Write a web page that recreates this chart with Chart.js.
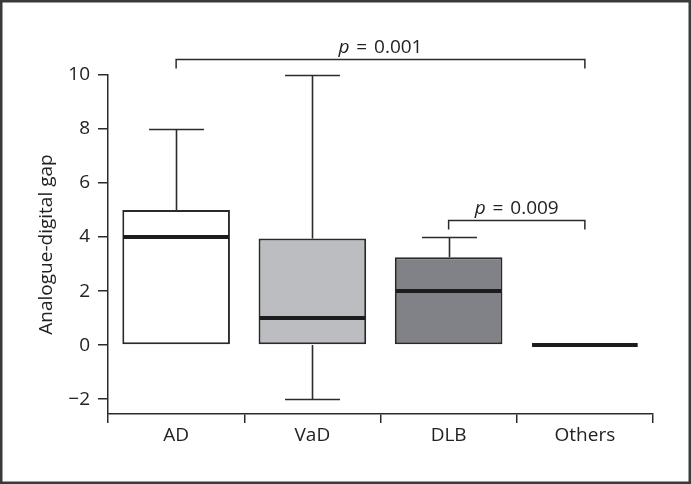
<!DOCTYPE html>
<html>
<head>
<meta charset="utf-8">
<script src="https://cdn.jsdelivr.net/npm/chart.js@4/dist/chart.umd.min.js"></script>
<style>
  html, body { margin: 0; padding: 0; background: #fff; }
  #wrap { width: 691px; height: 484px; }
</style>
</head>
<body>
<div id="wrap"><canvas id="chart" width="691" height="484"></canvas></div>
<script>
// Dados do box plot
const categories = ['AD', 'VaD', 'DLB', 'Others'];
const whiskerMin = [0, -2, 0, 0];
const q1 = [0, 0, 0, 0];
const medians = [4, 1, 2, 0];
const q3 = [5, 3.95, 3.25, 0];
const whiskerMax = [8, 10, 4, 0];
const boxColors = ['#ffffff', '#bcbdc1', '#808287', '#808287'];
const yTicks = [-2, 0, 2, 4, 6, 8, 10];

// Comparações (índices das categorias) e valores de p
const bracketFrom = [0, 2];
const bracketTo = [3, 3];
const bracketLevel = [10.6, 4.63];
const bracketP = ['0.001', '0.009'];

const FONT = '"Open Sans", "Noto Sans", sans-serif';
const FSIZE = 19;
const INK = '#2b2b2b';

const boxPlot = {
    id: 'boxPlot',
    beforeDatasetsDraw(chart) {
        // Bigodes
        const { ctx, scales: { x, y } } = chart;
        const bars = chart.getDatasetMeta(0).data;
        ctx.save();
        ctx.strokeStyle = INK;
        ctx.lineWidth = 1.6;
        categories.forEach((c, i) => {
            const cx = Math.round(x.getPixelForValue(i)) + 0.5;
            const half = bars[i].width * 0.255;
            [[q3[i], whiskerMax[i]], [q1[i], whiskerMin[i]]].forEach(([from, to]) => {
                if (from === to) return;
                const y0 = y.getPixelForValue(from);
                const y1 = Math.round(y.getPixelForValue(to)) + 0.5;
                ctx.beginPath();
                ctx.moveTo(cx, y0);
                ctx.lineTo(cx, y1);
                ctx.moveTo(cx - half, y1);
                ctx.lineTo(cx + half, y1);
                ctx.stroke();
            });
        });
        ctx.restore();
    },
    afterDatasetsDraw(chart) {
        const { ctx, scales: { x, y } } = chart;
        const bars = chart.getDatasetMeta(0).data;
        ctx.save();
        // Medianas
        ctx.strokeStyle = '#1c1c1c';
        ctx.lineWidth = 4;
        categories.forEach((c, i) => {
            const cx = x.getPixelForValue(i);
            const half = bars[i].width / 2 - 1;
            const my = y.getPixelForValue(medians[i]);
            ctx.beginPath();
            ctx.moveTo(cx - half, my);
            ctx.lineTo(cx + half, my);
            ctx.stroke();
        });
        // Colchetes com p
        ctx.strokeStyle = INK;
        ctx.lineWidth = 1.5;
        ctx.fillStyle = '#222';
        ctx.textBaseline = 'alphabetic';
        bracketFrom.forEach((from, k) => {
            const x0 = x.getPixelForValue(from);
            const x1 = x.getPixelForValue(bracketTo[k]);
            const by = Math.round(y.getPixelForValue(bracketLevel[k])) + 0.5;
            ctx.beginPath();
            ctx.moveTo(x0, by + 9);
            ctx.lineTo(x0, by);
            ctx.lineTo(x1, by);
            ctx.lineTo(x1, by + 9);
            ctx.stroke();

            const pPart = 'p';
            const rest = ' \u200a=\u200a ' + bracketP[k];
            ctx.font = 'italic ' + FSIZE + 'px ' + FONT;
            const wp = ctx.measureText(pPart).width;
            ctx.font = FSIZE + 'px ' + FONT;
            const wr = ctx.measureText(rest).width;
            const start = (x0 + x1) / 2 - (wp + wr) / 2;
            ctx.textAlign = 'left';
            ctx.font = 'italic ' + FSIZE + 'px ' + FONT;
            ctx.fillText(pPart, start, by - 7);
            ctx.font = FSIZE + 'px ' + FONT;
            ctx.fillText(rest, start + wp, by - 7);
        });
        ctx.restore();
    },
    afterDraw(chart) {
        // Moldura externa
        const { ctx } = chart;
        ctx.save();
        ctx.strokeStyle = '#3a3a3a';
        ctx.lineWidth = 2.5;
        ctx.strokeRect(1.25, 1.25, chart.width - 2.5, chart.height - 2.5);
        ctx.restore();
    }
};

const ctx = document.getElementById('chart').getContext('2d');
new Chart(ctx, {
    type: 'bar',
    data: {
        labels: categories,
        datasets: [{
            data: categories.map((c, i) => [q1[i], q3[i]]),
            backgroundColor: boxColors,
            borderColor: '#2a2a2a',
            borderWidth: 2,
            borderSkipped: false,
            barPercentage: 0.79,
            categoryPercentage: 1
        }]
    },
    options: {
        responsive: false,
        animation: false,
        layout: { padding: { top: 75, right: 38, bottom: 0, left: 0 } },
        plugins: {
            legend: { display: false },
            tooltip: { enabled: false }
        },
        scales: {
            x: {
                afterFit: s => { s.height = 70; },
                grid: {
                    display: true,
                    offset: true,
                    drawOnChartArea: false,
                    tickLength: 9,
                    color: INK,
                    lineWidth: 1.5
                },
                border: { display: true, color: INK, width: 1.5 },
                ticks: {
                    color: '#222',
                    padding: 1,
                    font: { family: FONT, size: FSIZE }
                }
            },
            y: {
                min: -2.55,
                max: 10,
                afterFit: s => { s.width = 108; },
                afterBuildTicks: s => { s.ticks = yTicks.map(v => ({ value: v })); },
                grid: {
                    display: true,
                    drawOnChartArea: false,
                    tickLength: 10,
                    color: INK,
                    lineWidth: 1.5
                },
                border: { display: true, color: INK, width: 1.5 },
                ticks: {
                    color: '#222',
                    padding: 8,
                    font: { family: FONT, size: FSIZE },
                    callback: v => (v < 0 ? '\u2212' + Math.abs(v) : v)
                },
                title: {
                    display: true,
                    text: 'Analogue-digital gap',
                    color: '#222',
                    padding: { top: 35, bottom: 0 },
                    font: { family: FONT, size: FSIZE }
                }
            }
        }
    },
    plugins: [boxPlot]
});
</script>
</body>
</html>
